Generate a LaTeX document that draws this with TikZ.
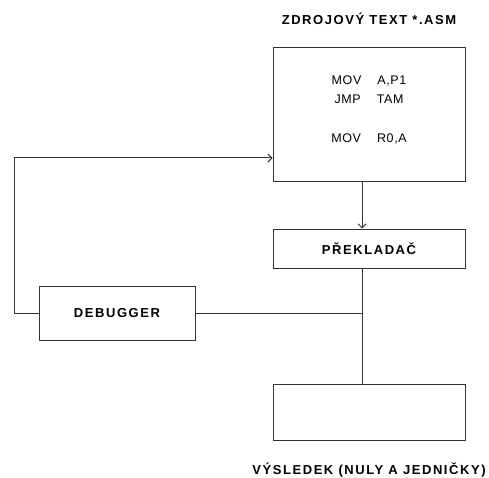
\documentclass[tikz,border=0pt]{standalone}
\usepackage{fontspec}
\setmainfont{Liberation Sans}
\usetikzlibrary{positioning, calc, arrows.meta}

\begin{document}
\begin{tikzpicture}[x=1pt, y=1pt, node distance=20pt,
    block/.style={draw=black!80, line width=1pt, minimum width=192pt, inner sep=0pt},
    caption/.style={font=\bfseries\fontsize{13}{15}\selectfont\addfontfeature{LetterSpace=12}, inner sep=0pt},
    line/.style={draw=black!80, line width=1pt},
    feed/.style={line, -{Straight Barb[length=4pt, width=8pt, line width=0.9pt]}}
]
    \useasboundingbox (0,0) rectangle (489,477);

    \node [block, minimum height=134pt] (src) at (369,362) {};
    \node [caption, anchor=base] (srctitle) at ($(src.north)+(0,23)$) {ZDROJOV\'Y TEXT *.ASM};
    \node [align=center, inner sep=0pt, below=28pt of src.north,
        font=\fontsize{12.5}{19}\selectfont\addfontfeature{LetterSpace=5}] (code)
        {MOV\hspace{16pt}A,P1\\JMP\hspace{16pt}TAM\\[20pt]MOV\hspace{16pt}R0,A};
    \node [block, minimum height=39pt, below=46pt of src, caption] (prek) {P\v{R}EKLADA\v{C}};
    \node [block, minimum height=56pt, below=115pt of prek] (res) {};
    \node [caption, anchor=base] (restitle) at ($(res.south)+(0,-34)$) {V\'YSLEDEK (NULY A JEDNI\v{C}KY)};
    \node [caption, draw=black!80, line width=1pt, minimum width=156pt, minimum height=54pt] (debug) at (117,164) {DEBUGGER};

    % spoje
    \coordinate (joint) at ($(prek.south)+(-7,0)$);
    \coordinate (hit) at (joint |- debug.east);
    \coordinate (loop) at (14,0);
    \path [feed] ($(src.south)+(-7,0)$) -- ($(prek.north)+(-7,0)$);
    \path [line] (joint) -- ($(res.north)+(-7,0)$);
    \path [line] (debug.east) -- (hit);
    \path [feed] (debug.west) -- (loop |- debug.west) |- ($(src.west)+(0,-43)$);
\end{tikzpicture}
\end{document}
